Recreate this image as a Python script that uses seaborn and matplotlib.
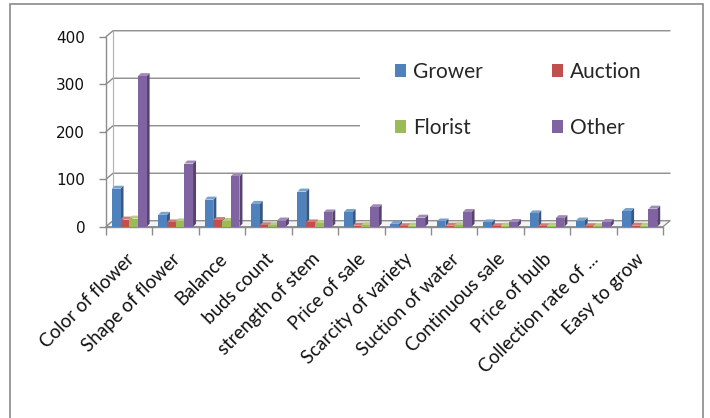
import numpy as np
import pandas as pd
import seaborn as sns
import matplotlib.pyplot as plt
import matplotlib.colors as mcolors
from matplotlib.patches import Polygon, Rectangle, Patch
from matplotlib.lines import Line2D
from matplotlib.transforms import IdentityTransform, ScaledTranslation

# ---- data -------------------------------------------------------------
categories = ["Color of flower", "Shape of flower", "Balance", "buds count",
              "strength of stem", "Price of sale", "Scarcity of variety",
              "Suction of water", "Continuous sale", "Price of bulb",
              "Collection rate of ...", "Easy to grow"]
series = ["Grower", "Auction", "Florist", "Other"]
grower = [80, 25, 57, 48, 74, 31, 6, 11, 9, 28, 13, 33]
auction = [15, 9, 14, 3, 9, 2, 1, 2, 1, 1, 1, 2]
florist = [17, 11, 12, 3, 8, 3, 2, 3, 2, 2, 1, 2]
other = [317, 133, 106, 13, 30, 41, 19, 31, 10, 18, 10, 38]
y_ticks = [0, 100, 200, 300, 400]
colors = ["#4F81BD", "#C0504D", "#9BBB59", "#8064A2"]

df = pd.DataFrame({"category": categories, "Grower": grower, "Auction": auction,
                   "Florist": florist, "Other": other})
long = df.melt(id_vars="category", var_name="source", value_name="count")

# ---- figure -----------------------------------------------------------
W, H, DPI = 710, 418, 100
sns.set_theme(style="white")
plt.rcParams["font.family"] = ["Lato", "DejaVu Sans"]
GRID = "#8c8c8c"

fig = plt.figure(figsize=(W / DPI, H / DPI), dpi=DPI)
fig.patch.set_facecolor("white")
ax = fig.add_axes([106 / W, (H - 226.7) / H, 557 / W, 190 / H])
ax.patch.set_alpha(0)

sns.barplot(data=long, x="category", y="count", hue="source", hue_order=series,
            palette=colors, width=0.75, gap=0, saturation=1, linewidth=0,
            legend=False, ax=ax, zorder=3)
ax.set_xlim(-0.5, len(categories) - 0.5)
ax.set_ylim(0, 400)
ax.set_xlabel("")
ax.set_ylabel("")

to_px = ax.transData.transform
ident = IdentityTransform()
d = 7    # depth of the back wall in pixels
bd = 3   # depth of each column

# back wall gridlines with the short diagonal to the side wall
x_left = to_px((-0.5, 0))[0]
x_right = to_px((len(categories) - 0.5, 0))[0]
for v in y_ticks:
    yp = to_px((0, v))[1]
    ax.add_line(Line2D([x_left, x_left + d, x_right + d], [yp, yp + d * 0.85, yp + d * 0.85],
                       transform=ident, color=GRID, lw=1.0, clip_on=False, zorder=0.5))
y0 = to_px((0, 0))[1]
y4 = to_px((0, 400))[1]
ax.add_line(Line2D([x_left + d, x_left + d], [y0 + d * 0.85, y4 + d * 0.85],
                   transform=ident, color="#b0b0b0", lw=0.8, clip_on=False, zorder=0.5))
# floor
ax.add_patch(Polygon([(x_left, y0), (x_right, y0), (x_right + d, y0 + d * 0.85),
                      (x_left + d, y0 + d * 0.85)], closed=True, transform=ident,
                     facecolor="#f4f4f4", edgecolor=GRID, lw=0.9, clip_on=False, zorder=0.6))

# side and top faces of the columns
for p in ax.patches[:]:
    if p.get_zorder() != 3:
        continue
    x0, x1 = p.get_x(), p.get_x() + p.get_width()
    h = p.get_height()
    (px0, py0), (px1, py1) = to_px((x0, 0)), to_px((x1, h))
    base = np.array(mcolors.to_rgb(p.get_facecolor()))
    side = base * 0.68
    top = base + (1 - base) * 0.25
    ax.add_patch(Polygon([(px1, py0), (px1 + bd, py0 + bd), (px1 + bd, py1 + bd), (px1, py1)],
                         closed=True, transform=ident, facecolor=side, lw=0,
                         clip_on=False, zorder=2.5))
    ax.add_patch(Polygon([(px0, py1), (px1, py1), (px1 + bd, py1 + bd), (px0 + bd, py1 + bd)],
                         closed=True, transform=ident, facecolor=top, lw=0,
                         clip_on=False, zorder=2.5))

# axes styling
for s in ["top", "right"]:
    ax.spines[s].set_visible(False)
for s in ["left", "bottom"]:
    ax.spines[s].set_color(GRID)
    ax.spines[s].set_linewidth(1.0)
ax.set_yticks(y_ticks)
ax.set_yticklabels([str(v) for v in y_ticks], fontsize=11, family="DejaVu Sans", color="#111111")
ax.tick_params(axis="y", direction="out", length=5, width=1, color=GRID, pad=10, left=True)

ax.set_xticks(np.arange(-0.5, len(categories), 1.0))
ax.set_xticklabels([])
ax.tick_params(axis="x", which="major", direction="out", length=6, width=1, color=GRID, bottom=True)
ax.set_xticks(np.arange(len(categories)), minor=True)
ax.set_xticklabels(categories, minor=True, rotation=45, ha="right", va="top",
                   rotation_mode="anchor", fontsize=13.5, color="#111111")
ax.tick_params(axis="x", which="minor", length=0, pad=17)
shift = ScaledTranslation(-4 / DPI, 0, fig.dpi_scale_trans)
for lab in ax.get_xticklabels(minor=True):
    lab.set_transform(lab.get_transform() + shift)

# legend on a white panel, filled row by row
ax.add_patch(Rectangle((360, H - 165), 315, 125, transform=ident, facecolor="white",
                       lw=0, clip_on=False, zorder=0.7))
order = [0, 2, 1, 3]
handles = [Patch(facecolor=colors[i], edgecolor="none") for i in order]
labels = [series[i] for i in order]
ax.legend(handles, labels, ncol=2, frameon=False, loc="upper left",
          bbox_to_anchor=(395 / W, 1 - 62 / H), bbox_transform=fig.transFigure,
          fontsize=15, handlelength=0.53, handleheight=0.53, handletextpad=0.34,
          labelspacing=1.72, columnspacing=3.3, borderpad=0, borderaxespad=0)

# chart-area border
fig.add_artist(Rectangle((10 / W, -0.05), 693 / W, 414 / H + 0.05, transform=fig.transFigure,
                         fill=False, edgecolor="#8a8a8a", lw=1.2))

fig.savefig("out.png", dpi=DPI)
